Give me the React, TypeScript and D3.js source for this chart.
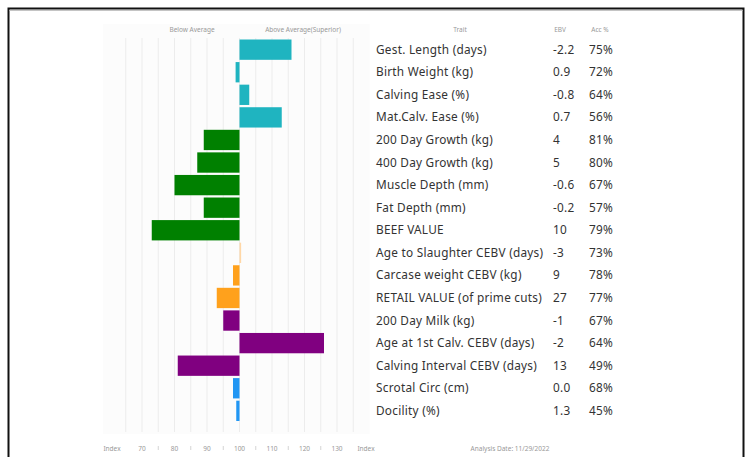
import * as d3 from "d3";

const traits = [
  "Gest. Length (days)",
  "Birth Weight (kg)",
  "Calving Ease (%)",
  "Mat.Calv. Ease (%)",
  "200 Day Growth (kg)",
  "400 Day Growth (kg)",
  "Muscle Depth (mm)",
  "Fat Depth (mm)",
  "BEEF VALUE",
  "Age to Slaughter CEBV (days)",
  "Carcase weight CEBV (kg)",
  "RETAIL VALUE (of prime cuts)",
  "200 Day Milk (kg)",
  "Age at 1st Calv. CEBV (days)",
  "Calving Interval CEBV (days)",
  "Scrotal Circ (cm)",
  "Docility (%)",
];
const ebvs = ["-2.2", "0.9", "-0.8", "0.7", "4", "5", "-0.6", "-0.2", "10", "-3", "9", "27", "-1", "-2", "13", "0.0", "1.3"];
const accs = ["75%", "72%", "64%", "56%", "81%", "80%", "67%", "57%", "79%", "73%", "78%", "77%", "67%", "64%", "49%", "68%", "45%"];
const indexValues = [116, 98.8, 103, 113, 89, 87, 80, 89, 73, 100.5, 98, 93, 95, 126, 81, 98, 99];
const groups = ["calving", "calving", "calving", "calving", "growth", "growth", "growth", "growth", "growth", "carcase", "carcase", "carcase", "maternal", "maternal", "maternal", "other", "other"];
const axisTicks = [70, 80, 90, 100, 110, 120, 130];
const analysisDate = "Analysis Date: 11/29/2022";

const groupColor: Record<string, string> = {
  calving: "#1fb4c0",
  growth: "#008000",
  carcase: "#ffa11c",
  maternal: "#800080",
  other: "#2196f3",
};

const W = 750;
const H = 457;
const font = "'Noto Sans', sans-serif";

export default function App() {
  const x = d3.scaleLinear().domain([58, 140]).range([103, 369.5]);
  const y = d3.scaleBand<number>().domain(d3.range(traits.length)).range([39.5, 421]).paddingInner(0.1);
  const grid = d3.range(65, 140, 5);
  const minor = d3.range(75, 130, 10);

  return (
    <svg width={W} height={H} style={{ position: "absolute", left: 0, top: 0, fontFamily: font }}>
      <rect width={W} height={H} fill="#fff" />
      {/* frame */}
      <rect x={8.5} y={8.5} width={735} height={470} fill="none" stroke="#111" strokeWidth={2} />
      <line x1={9.5} x2={742.5} y1={10.5} y2={10.5} stroke="#c4c4c4" strokeWidth={1} />

      {/* plot panel */}
      <rect x={x(58)} y={24} width={x(140) - x(58)} height={410} fill="#fcfcfc" />
      {grid.map((g) => (
        <line key={g} x1={x(g)} x2={x(g)} y1={38} y2={432} stroke="#ececec" strokeWidth={1} />
      ))}

      <text x={192} y={32} fontSize={6.5} fill="#999" textAnchor="middle">Below Average</text>
      <text x={303} y={32} fontSize={6.5} fill="#999" textAnchor="middle">Above Average(Superior)</text>

      {indexValues.map((v, i) => {
        const faint = i === 9;
        return (
          <rect
            key={i}
            x={Math.min(x(v), x(100))}
            y={y(i)}
            width={Math.abs(x(v) - x(100))}
            height={y.bandwidth()}
            fill={faint ? "#ffd7a6" : groupColor[groups[i]]}
          />
        );
      })}

      {/* table */}
      <text x={460} y={32} fontSize={6.5} fill="#999" textAnchor="middle">Trait</text>
      <text x={560} y={32} fontSize={6.5} fill="#999" textAnchor="middle">EBV</text>
      <text x={600} y={32} fontSize={6.5} fill="#999" textAnchor="middle">Acc %</text>
      {traits.map((t, i) => {
        const cy = (y(i) ?? 0) + y.bandwidth() / 2 + 4;
        return (
          <g key={t} fontSize={11.8} fill="#333" letterSpacing={0.25}>
            <text x={376} y={cy}>{t}</text>
            <text x={553} y={cy}>{ebvs[i]}</text>
            <text x={589} y={cy}>{accs[i]}</text>
          </g>
        );
      })}

      {/* bottom axis */}
      <text x={112} y={451} fontSize={6.5} fill="#999" textAnchor="middle">Index</text>
      {axisTicks.map((t) => (
        <text key={t} x={x(t)} y={451} fontSize={6.5} fill="#999" textAnchor="middle">{t}</text>
      ))}
      {minor.map((m) => (
        <line key={m} x1={x(m)} x2={x(m)} y1={446} y2={450} stroke="#d4d4d4" strokeWidth={1} />
      ))}
      <text x={366} y={451} fontSize={6.5} fill="#999" textAnchor="middle">Index</text>
      <text x={510} y={451} fontSize={6.5} fill="#999" textAnchor="middle">{analysisDate}</text>
    </svg>
  );
}
